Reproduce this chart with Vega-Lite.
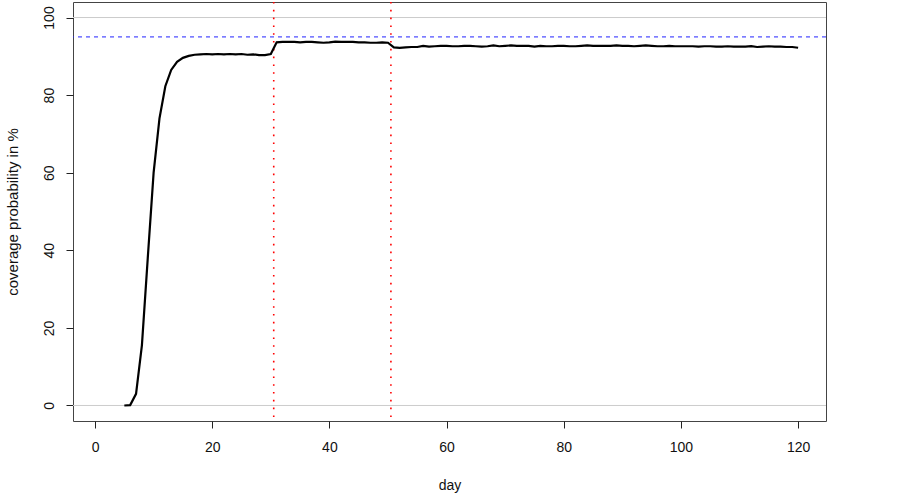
{
  "$schema": "https://vega.github.io/schema/vega-lite/v6.json",
  "width": 753,
  "height": 419,
  "autosize": {"type": "none"},
  "padding": {"left": 73, "top": 2, "right": 74, "bottom": 74},
  "background": "white",
  "config": {
    "font": "Liberation Sans",
    "view": {"stroke": "#444", "strokeWidth": 1},
    "axis": {
      "grid": false,
      "domain": false,
      "tickColor": "#222",
      "tickSize": 7,
      "labelFont": "Liberation Sans",
      "labelFontSize": 14,
      "labelColor": "#111",
      "titleFont": "Liberation Sans",
      "titleFontSize": 14,
      "titleFontWeight": "normal",
      "titleColor": "#111"
    }
  },
  "layer": [
    {
      "data": {"values": [{"ref": 0}, {"ref": 100}]},
      "mark": {"type": "rule", "color": "#cccccc", "strokeWidth": 1},
      "encoding": {
        "y": {"field": "ref", "type": "quantitative", "scale": {"domain": [-4, 104], "nice": false, "zero": false}}
      }
    },
    {
      "data": {"values": [{"target": 95}]},
      "mark": {"type": "rule", "color": "#2222ff", "strokeWidth": 1, "strokeDash": [4, 4]},
      "encoding": {
        "y": {"field": "target", "type": "quantitative"}
      }
    },
    {
      "data": {"values": [{"change": 30.5}, {"change": 50.5}]},
      "mark": {"type": "rule", "color": "#ff0000", "strokeWidth": 1.6, "strokeDash": [1.6, 6.2]},
      "encoding": {
        "x": {"field": "change", "type": "quantitative"}
      }
    },
    {
      "data": {"values": [
        {"day": 5, "cov": 0}, {"day": 6, "cov": 0.1}, {"day": 7, "cov": 3.0}, {"day": 8, "cov": 15.5},
        {"day": 9, "cov": 38}, {"day": 10, "cov": 60}, {"day": 11, "cov": 74}, {"day": 12, "cov": 82.3},
        {"day": 13, "cov": 86.5}, {"day": 14, "cov": 88.6}, {"day": 15, "cov": 89.6}, {"day": 16, "cov": 90.1},
        {"day": 17, "cov": 90.4}, {"day": 18, "cov": 90.5}, {"day": 19, "cov": 90.6}, {"day": 20, "cov": 90.5},
        {"day": 21, "cov": 90.6}, {"day": 22, "cov": 90.5}, {"day": 23, "cov": 90.6}, {"day": 24, "cov": 90.5},
        {"day": 25, "cov": 90.6}, {"day": 26, "cov": 90.4}, {"day": 27, "cov": 90.5}, {"day": 28, "cov": 90.3},
        {"day": 29, "cov": 90.3}, {"day": 30, "cov": 90.6}, {"day": 31, "cov": 93.6}, {"day": 32, "cov": 93.7},
        {"day": 33, "cov": 93.7}, {"day": 34, "cov": 93.7}, {"day": 35, "cov": 93.6}, {"day": 36, "cov": 93.7},
        {"day": 37, "cov": 93.7}, {"day": 38, "cov": 93.6}, {"day": 39, "cov": 93.5}, {"day": 40, "cov": 93.6},
        {"day": 41, "cov": 93.8}, {"day": 42, "cov": 93.7}, {"day": 43, "cov": 93.7}, {"day": 44, "cov": 93.7},
        {"day": 45, "cov": 93.6}, {"day": 46, "cov": 93.6}, {"day": 47, "cov": 93.5}, {"day": 48, "cov": 93.5},
        {"day": 49, "cov": 93.6}, {"day": 50, "cov": 93.5}, {"day": 51, "cov": 92.3}, {"day": 52, "cov": 92.2},
        {"day": 53, "cov": 92.3}, {"day": 54, "cov": 92.4}, {"day": 55, "cov": 92.4}, {"day": 56, "cov": 92.7},
        {"day": 57, "cov": 92.5}, {"day": 58, "cov": 92.6}, {"day": 59, "cov": 92.7}, {"day": 60, "cov": 92.7},
        {"day": 61, "cov": 92.6}, {"day": 62, "cov": 92.6}, {"day": 63, "cov": 92.7}, {"day": 64, "cov": 92.7},
        {"day": 65, "cov": 92.6}, {"day": 66, "cov": 92.5}, {"day": 67, "cov": 92.6}, {"day": 68, "cov": 92.8},
        {"day": 69, "cov": 92.6}, {"day": 70, "cov": 92.7}, {"day": 71, "cov": 92.8}, {"day": 72, "cov": 92.7},
        {"day": 73, "cov": 92.7}, {"day": 74, "cov": 92.7}, {"day": 75, "cov": 92.5}, {"day": 76, "cov": 92.7},
        {"day": 77, "cov": 92.6}, {"day": 78, "cov": 92.6}, {"day": 79, "cov": 92.7}, {"day": 80, "cov": 92.7},
        {"day": 81, "cov": 92.6}, {"day": 82, "cov": 92.6}, {"day": 83, "cov": 92.7}, {"day": 84, "cov": 92.8},
        {"day": 85, "cov": 92.7}, {"day": 86, "cov": 92.7}, {"day": 87, "cov": 92.7}, {"day": 88, "cov": 92.7},
        {"day": 89, "cov": 92.8}, {"day": 90, "cov": 92.7}, {"day": 91, "cov": 92.7}, {"day": 92, "cov": 92.6},
        {"day": 93, "cov": 92.7}, {"day": 94, "cov": 92.8}, {"day": 95, "cov": 92.7}, {"day": 96, "cov": 92.6},
        {"day": 97, "cov": 92.6}, {"day": 98, "cov": 92.7}, {"day": 99, "cov": 92.6}, {"day": 100, "cov": 92.6},
        {"day": 101, "cov": 92.6}, {"day": 102, "cov": 92.6}, {"day": 103, "cov": 92.5}, {"day": 104, "cov": 92.6},
        {"day": 105, "cov": 92.6}, {"day": 106, "cov": 92.5}, {"day": 107, "cov": 92.5}, {"day": 108, "cov": 92.6},
        {"day": 109, "cov": 92.5}, {"day": 110, "cov": 92.5}, {"day": 111, "cov": 92.5}, {"day": 112, "cov": 92.6},
        {"day": 113, "cov": 92.4}, {"day": 114, "cov": 92.5}, {"day": 115, "cov": 92.6}, {"day": 116, "cov": 92.5},
        {"day": 117, "cov": 92.5}, {"day": 118, "cov": 92.4}, {"day": 119, "cov": 92.4}, {"day": 120, "cov": 92.2}
      ]},
      "mark": {"type": "line", "color": "#000000", "strokeWidth": 2.2, "interpolate": "linear"},
      "encoding": {
        "x": {
          "field": "day", "type": "quantitative", "title": "day",
          "scale": {"domain": [-3.76, 124.76], "nice": false, "zero": false},
          "axis": {"values": [0, 20, 40, 60, 80, 100, 120], "labelPadding": 12, "labelBaseline": "top", "titleY": 68, "titleBaseline": "alphabetic"}
        },
        "y": {
          "field": "cov", "type": "quantitative", "title": "coverage probability in %",
          "scale": {"domain": [-4, 104], "nice": false, "zero": false},
          "axis": {"values": [0, 20, 40, 60, 80, 100], "labelAngle": 270, "labelAlign": "center", "labelBaseline": "alphabetic", "labelPadding": 13, "titleAngle": 270, "titleX": -56, "titleBaseline": "alphabetic", "titleFontSize": 15}
        }
      }
    }
  ]
}
